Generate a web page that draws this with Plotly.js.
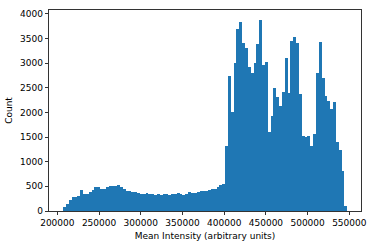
<!DOCTYPE html>
<html>
<head>
<meta charset="utf-8">
<script src="https://cdn.plot.ly/plotly-3.0.1.min.js"></script>
<style>
  html, body { margin: 0; padding: 0; background: #fff; }
  #chart { width: 374px; height: 247px; }
</style>
</head>
<body>
<div id="chart"></div>
<script>
// Histogram of mean intensity: 100 equal bins
const binStart = 207000;
const binWidth = 3405;

// Counts per bin
const counts = [
    80, 148, 229, 283, 283, 310, 417, 336, 340, 390,
    417, 485, 485, 445, 455, 485, 500, 512, 512, 526,
    495, 450, 415, 397, 390, 377, 364, 345, 350, 355,
    350, 340, 324, 337, 330, 340, 344, 324, 350, 350,
    364, 350, 330, 335, 377, 370, 370, 380, 397, 397,
    405, 417, 445, 445, 486, 518, 553, 1328, 2745, 2004,
    2995, 3684, 3838, 3413, 3299, 2915, 2805, 2995, 3380, 3872,
    2961, 3028, 1611, 1929, 2502, 2307, 2131, 2421, 3097, 2400,
    3453, 3534, 3413, 2368, 1524, 1505, 1530, 1328, 1565, 2805,
    3420, 2692, 2334, 2232, 2064, 2218, 1409, 1241, 802, 93
];

const xTicks = [200000, 250000, 300000, 350000, 400000, 450000, 500000, 550000];
const yTicks = [0, 500, 1000, 1500, 2000, 2500, 3000, 3500, 4000];

// bin centres
const centers = counts.map((_, i) => binStart + (i + 0.5) * binWidth);

const font = { family: 'DejaVu Sans, sans-serif', size: 9, color: '#000' };

Plotly.newPlot('chart', [{
    type: 'bar',
    x: centers,
    y: counts,
    width: binWidth,
    marker: { color: '#1f77b4', line: { width: 0 } },
    hoverinfo: 'none'
}], {
    width: 374,
    height: 247,
    margin: { l: 49, r: 13, t: 10, b: 36 },
    paper_bgcolor: '#fff',
    plot_bgcolor: '#fff',
    font: font,
    bargap: 0,
    showlegend: false,
    xaxis: {
        range: [190000, 564000],
        tickvals: xTicks,
        ticktext: xTicks.map(String),
        ticks: 'outside',
        ticklen: 3.5,
        tickwidth: 0.8,
        tickcolor: '#000',
        showgrid: false,
        zeroline: false,
        showline: true,
        linecolor: '#000',
        linewidth: 0.8,
        mirror: true,
        tickfont: font,
        title: { text: 'Mean Intensity (arbitrary units)', font: font, standoff: 5 }
    },
    yaxis: {
        range: [0, 4075],
        tickvals: yTicks,
        ticktext: yTicks.map(String),
        ticks: 'outside',
        ticklen: 3.5,
        tickwidth: 0.8,
        tickcolor: '#000',
        showgrid: false,
        zeroline: false,
        showline: true,
        linecolor: '#000',
        linewidth: 0.8,
        mirror: true,
        tickfont: font,
        title: { text: 'Count', font: font, standoff: 5 }
    }
}, { displayModeBar: false, staticPlot: true });
</script>
</body>
</html>
